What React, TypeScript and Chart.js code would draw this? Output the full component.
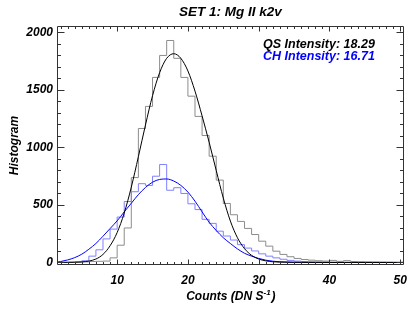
import React, { useEffect, useRef } from "react";
import { Chart, registerables } from "chart.js";

Chart.register(...registerables);

const TITLE = "SET 1: Mg II k2v";
const Y_TITLE = "Histogram";
const X_TITLE_MAIN = "Counts (DN S";
const X_TITLE_SUP = "-1";
const X_TITLE_END = ")";
const QS_LABEL = "QS Intensity: 18.29";
const CH_LABEL = "CH Intensity: 16.71";

// histogram bins (left edge of each 1-count-wide bin)
const binStarts = [
  1, 2, 3, 4, 5, 6, 7, 8, 9, 10, 11, 12, 13, 14, 15, 16, 17, 18, 19, 20, 21, 22, 23, 24, 25,
  26, 27, 28, 29, 30, 31, 32, 33, 34, 35, 36, 37, 38, 39, 40, 41, 42, 43, 44, 45, 46, 47, 48, 49, 50,
];
const qsCounts = [
  0, 0, 0, 2, 5, 8, 10, 12, 40, 150, 300, 738, 1165, 1357, 1609, 1800, 1930, 1775, 1609, 1446, 1270,
  1104, 924, 716, 513, 415, 357, 296, 243, 185, 142, 98, 70, 50, 35, 26, 20, 15, 12, 18, 10, 16, 8, 6,
  5, 4, 3, 2, 1, 1,
];
const chCounts = [
  2, 2, 3, 5, 15, 55, 110, 205, 290, 395, 530, 615, 685, 670, 750, 852, 628, 650, 600, 510, 460, 375,
  340, 272, 230, 195, 155, 125, 100, 75, 55, 40, 28, 18, 12, 8, 6, 5, 4, 3, 3, 2, 2, 2, 1, 1, 1, 1, 1, 1,
];

// fitted curves
const fitX = [
  1.5, 2, 3, 4, 5, 6, 7, 8, 9, 10, 11, 12, 13, 14, 15, 16, 17, 18, 19, 20, 21, 22, 23, 24, 25, 26, 27,
  28, 29, 30, 31, 32, 33, 35, 40, 50.5,
];
const qsFit = [
  0, 0, 1, 2, 5, 12, 30, 70, 145, 260, 430, 655, 920, 1195, 1450, 1650, 1775, 1815, 1775, 1665, 1490,
  1275, 1045, 800, 560, 360, 215, 120, 62, 30, 14, 6, 3, 1, 0, 0,
];
const chFit = [
  3, 8, 22, 42, 72, 115, 165, 228, 295, 362, 440, 515, 590, 652, 698, 722, 726, 708, 670, 612, 533,
  440, 350, 278, 215, 165, 118, 80, 55, 35, 20, 11, 6, 2, 0, 0,
];

const xTicks = [10, 20, 30, 40, 50];
const yTicks = [0, 500, 1000, 1500, 2000];
const X_MIN = 1.5;
const X_MAX = 50.5;
const Y_MIN = -22;
const Y_MAX = 2056;
const X_MINOR_STEP = 1;
const Y_MINOR_STEP = 100;

const FONT = "'Liberation Sans', Arial, Helvetica, sans-serif";

const histPoints = (counts: number[]) => {
  const pts = binStarts.map((x, i) => ({ x, y: counts[i] }));
  pts.push({ x: binStarts[binStarts.length - 1] + 1, y: counts[counts.length - 1] });
  return pts;
};
const fitPoints = (vals: number[]) => fitX.map((x, i) => ({ x, y: vals[i] }));

const idlPlugin = {
  id: "idlFrame",
  afterDraw(chart: any) {
    const { ctx, chartArea: a, scales } = chart;
    const xs = scales.x;
    const ys = scales.y;
    const L = Math.round(a.left) + 0.5;
    const R = Math.round(a.right) - 0.5;
    const T = Math.round(a.top) + 0.5;
    const B = Math.round(a.bottom) - 0.5;
    ctx.save();
    ctx.strokeStyle = "#333333";
    ctx.lineWidth = 1;
    ctx.beginPath();
    ctx.rect(L, T, R - L, B - T);
    // x ticks (bottom and top, inward)
    for (let v = Math.ceil(X_MIN); v <= X_MAX; v += X_MINOR_STEP) {
      const px = Math.round(xs.getPixelForValue(v)) + 0.5;
      const len = v % 10 === 0 ? 5 : 2.5;
      ctx.moveTo(px, B);
      ctx.lineTo(px, B - len);
      ctx.moveTo(px, T);
      ctx.lineTo(px, T + len);
    }
    // y ticks (left and right, inward)
    for (let v = 0; v <= Y_MAX; v += Y_MINOR_STEP) {
      const py = Math.round(ys.getPixelForValue(v)) + 0.5;
      const len = v % 500 === 0 ? 7 : 3.5;
      ctx.moveTo(L, py);
      ctx.lineTo(L + len, py);
      ctx.moveTo(R, py);
      ctx.lineTo(R - len, py);
    }
    ctx.stroke();

    // title
    const cx = (a.left + a.right) / 2;
    ctx.textBaseline = "middle";
    ctx.textAlign = "center";
    ctx.fillStyle = "#000000";
    ctx.font = `italic bold 13.5px ${FONT}`;
    ctx.fillText(TITLE, cx, 12);

    // legend texts
    ctx.textAlign = "left";
    ctx.font = `italic bold 12.5px ${FONT}`;
    ctx.fillStyle = "#000000";
    ctx.fillText(QS_LABEL, 263, 45);
    ctx.fillStyle = "#0000ff";
    ctx.fillText(CH_LABEL, 263, 57);

    // x axis title with superscript
    ctx.fillStyle = "#000000";
    const mainFont = `italic bold 12px ${FONT}`;
    const supFont = `italic bold 8px ${FONT}`;
    ctx.font = mainFont;
    const w1 = ctx.measureText(X_TITLE_MAIN).width;
    const w3 = ctx.measureText(X_TITLE_END).width;
    ctx.font = supFont;
    const w2 = ctx.measureText(X_TITLE_SUP).width;
    let sx = cx - (w1 + w2 + w3) / 2;
    const ty = 297;
    ctx.font = mainFont;
    ctx.fillText(X_TITLE_MAIN, sx, ty);
    sx += w1;
    ctx.font = supFont;
    ctx.fillText(X_TITLE_SUP, sx, ty - 4);
    sx += w2;
    ctx.font = mainFont;
    ctx.fillText(X_TITLE_END, sx + 1, ty);
    ctx.restore();
  },
};

export default function App() {
  const ref = useRef<HTMLCanvasElement | null>(null);
  useEffect(() => {
    if (!ref.current) return;
    const chart = new Chart(ref.current, {
      type: "line",
      data: {
        datasets: [
          {
            label: "QS fit",
            data: fitPoints(qsFit),
            borderColor: "#000000",
            borderWidth: 1,
            pointRadius: 0,
            cubicInterpolationMode: "monotone",
            fill: false,
          },
          {
            label: "CH fit",
            data: fitPoints(chFit),
            borderColor: "#0000ff",
            borderWidth: 1,
            pointRadius: 0,
            cubicInterpolationMode: "monotone",
            fill: false,
          },
          {
            label: "QS histogram",
            data: histPoints(qsCounts),
            borderColor: "#8c8c8c",
            borderWidth: 1,
            pointRadius: 0,
            stepped: true,
            fill: false,
          },
          {
            label: "CH histogram",
            data: histPoints(chCounts),
            borderColor: "#8080ff",
            borderWidth: 1,
            pointRadius: 0,
            stepped: true,
            fill: false,
          },
        ],
      },
      options: {
        responsive: false,
        animation: false,
        devicePixelRatio: 1,
        layout: { padding: { left: 0, right: 11, top: 26, bottom: 0 } },
        plugins: { legend: { display: false }, tooltip: { enabled: false }, title: { display: false } },
        scales: {
          x: {
            type: "linear",
            min: X_MIN,
            max: X_MAX,
            grid: { display: false, drawTicks: false },
            border: { display: false },
            afterBuildTicks: (s: any) => {
              s.ticks = xTicks.map((value) => ({ value }));
            },
            afterFit: (s: any) => {
              s.height = 49;
            },
            ticks: {
              autoSkip: false,
              maxRotation: 0,
              padding: 8,
              color: "#000000",
              callback: (v: any) => String(v),
              font: { family: FONT, size: 12, weight: "bold", style: "italic" },
            },
          },
          y: {
            type: "linear",
            min: Y_MIN,
            max: Y_MAX,
            grid: { display: false, drawTicks: false },
            border: { display: false },
            afterBuildTicks: (s: any) => {
              s.ticks = yTicks.map((value) => ({ value }));
            },
            afterFit: (s: any) => {
              s.width = 57;
            },
            title: {
              display: true,
              text: Y_TITLE,
              color: "#000000",
              padding: { top: 7, bottom: 0 },
              font: { family: FONT, size: 12, weight: "bold", style: "italic" },
            },
            ticks: {
              autoSkip: false,
              padding: 4,
              color: "#000000",
              callback: (v: any) => String(v),
              font: { family: FONT, size: 12, weight: "bold", style: "italic" },
            },
          },
        },
      },
      plugins: [idlPlugin],
    } as any);
    return () => chart.destroy();
  }, []);
  return (
    <div style={{ position: "absolute", left: 0, top: 0, width: 415, height: 314, background: "#fff" }}>
      <canvas ref={ref} width={415} height={314} style={{ display: "block" }} />
    </div>
  );
}
